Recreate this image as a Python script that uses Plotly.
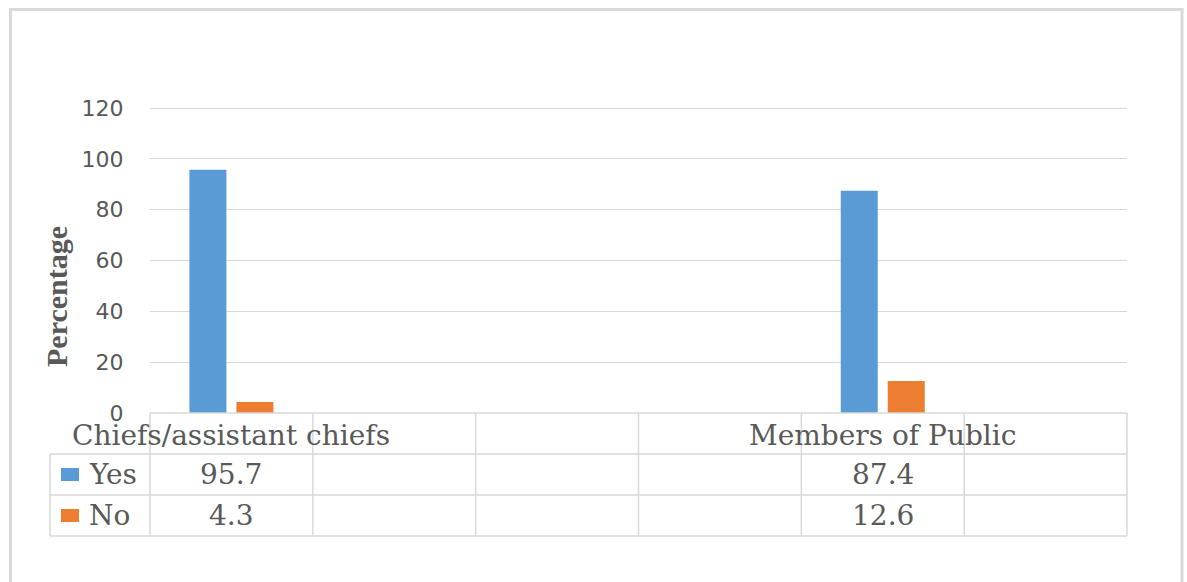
import plotly.graph_objects as go

# Data
categories = ["Chiefs/assistant chiefs", "", "", "", "Members of Public", ""]
yes_values = [95.7, None, None, None, 87.4, None]
no_values = [4.3, None, None, None, 12.6, None]
series_names = ["Yes", "No"]
y_ticks = [0, 20, 40, 60, 80, 100, 120]

BLUE = "#5B9BD5"
ORANGE = "#ED7D31"
GRID = "#d9d9d9"
TEXT = "#595959"

W_PX, H_PX = 1187, 582
L, R, T, B = 150, 1127, 107, 413  # plot area in pixels
PW, PH = R - L, B - T
Y_MAX = 120.4  # a little headroom so the top gridline is drawn


def px(xp):
    return (xp - L) / PW


def py(yp):
    return (B - yp) / PH


x_pos = list(range(len(categories)))

fig = go.Figure()
fig.add_bar(x=x_pos, y=yes_values, name=series_names[0], marker=dict(color=BLUE, line=dict(width=0)))
fig.add_bar(x=x_pos, y=no_values, name=series_names[1], marker=dict(color=ORANGE, line=dict(width=0)))

shapes = []
# outer chart border
shapes.append(dict(type="rect", xref="paper", yref="paper", x0=px(10.5), x1=px(1182),
                   y0=py(9.5), y1=py(640), line=dict(color="#d9d9d9", width=3)))

# data table grid
row_tops = [413, 454, 495, 536]
col_w = PW / len(categories)
shapes.append(dict(type="line", xref="paper", yref="paper", x0=px(L), x1=px(R),
                   y0=py(413), y1=py(413), line=dict(color=GRID, width=1.5)))
for yl in row_tops[1:]:
    shapes.append(dict(type="line", xref="paper", yref="paper", x0=px(50), x1=px(R),
                       y0=py(yl), y1=py(yl), line=dict(color=GRID, width=1.5)))
shapes.append(dict(type="line", xref="paper", yref="paper", x0=px(50), x1=px(50),
                   y0=py(454), y1=py(536), line=dict(color=GRID, width=1.5)))
for i in range(len(categories) + 1):
    xl = L + i * col_w
    shapes.append(dict(type="line", xref="paper", yref="paper", x0=px(xl), x1=px(xl),
                       y0=py(413), y1=py(536), line=dict(color=GRID, width=1.5)))

TABLE_FONT = dict(family="DejaVu Serif", size=28, color=TEXT)

annotations = []
# category header row
for i, cat in enumerate(categories):
    if cat:
        annotations.append(dict(x=i, xref="x", y=py(435), yref="paper", text=cat,
                                showarrow=False, xanchor="center", yanchor="middle",
                                font=TABLE_FONT))

# series rows: legend key + values
for r, (name, vals, color) in enumerate(zip(series_names, [yes_values, no_values], [BLUE, ORANGE])):
    yc = (row_tops[r + 1] + row_tops[r + 2]) / 2
    shapes.append(dict(type="rect", xref="paper", yref="paper", x0=px(61), x1=px(79),
                       y0=py(yc + 6.5), y1=py(yc - 6.5), line=dict(width=0), fillcolor=color))
    annotations.append(dict(x=px(87), xref="paper", y=py(yc), yref="paper", text=name,
                            showarrow=False, xanchor="left", yanchor="middle",
                            font=TABLE_FONT))
    for i, v in enumerate(vals):
        if v is not None:
            annotations.append(dict(x=i, xref="x", y=py(yc), yref="paper", text=f"{v:.1f}",
                                    showarrow=False, xanchor="center", yanchor="middle",
                                    font=TABLE_FONT))

# axis title
annotations.append(dict(x=px(56), xref="paper", y=py(297), yref="paper", text="<b>Percentage</b>",
                        textangle=-90, showarrow=False, xanchor="center", yanchor="middle",
                        font=dict(family="Liberation Serif", size=30, color=TEXT)))

fig.update_layout(
    width=W_PX, height=H_PX,
    margin=dict(l=L, r=W_PX - R, t=T, b=H_PX - B, pad=0),
    paper_bgcolor="white", plot_bgcolor="white",
    barmode="group", bargap=0.4226, bargroupgap=0.213,
    showlegend=False,
    shapes=shapes, annotations=annotations,
    xaxis=dict(range=[-0.5, len(categories) - 0.5], showticklabels=False, showgrid=False,
               zeroline=False, showline=False, ticks=""),
    yaxis=dict(range=[0, Y_MAX], tickvals=y_ticks, showgrid=True, gridcolor=GRID, gridwidth=1,
               zeroline=False, showline=False, ticks="outside", ticklen=21,
               tickcolor="rgba(0,0,0,0)",
               tickfont=dict(family="DejaVu Sans", size=22, color=TEXT)),
)

fig.write_html("out.html")
